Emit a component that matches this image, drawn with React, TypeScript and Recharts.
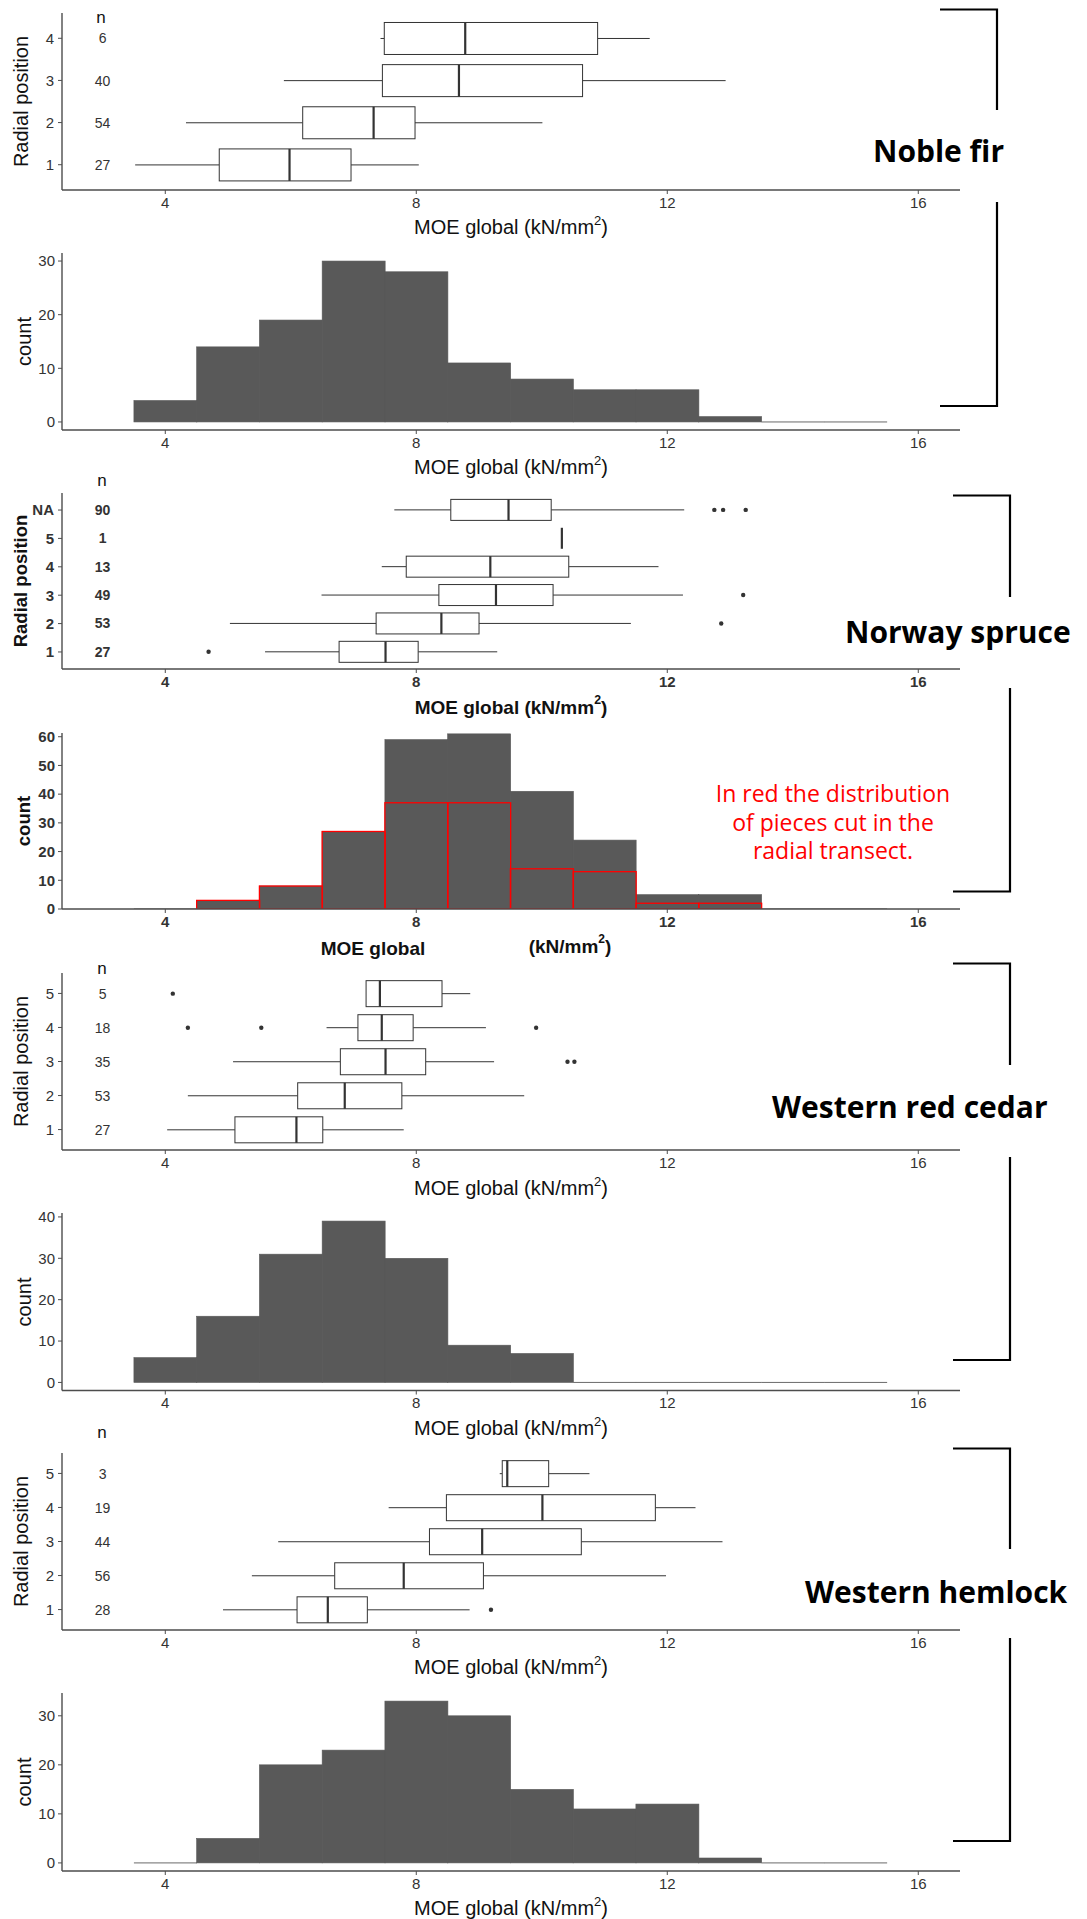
import React from 'react';
import { ComposedChart, Bar, XAxis, YAxis } from 'recharts';

// ---------- shared axis values ----------
const MOE_TICKS = [4, 8, 12, 16];
const MOE_DOMAIN: [number, number] = [2.354, 16.665];
const BIN_MIDS = [4, 5, 6, 7, 8, 9, 10, 11, 12, 13, 14, 15];
const COUNT_LABEL_AT = 3;

// ---------- Noble fir ----------
const NOBLE_POS = ['4', '3', '2', '1'];
const NOBLE_N = [6, 40, 54, 27];
const NOBLE_LO = [7.43, 5.89, 4.33, 3.52];
const NOBLE_Q1 = [7.49, 7.46, 6.19, 4.86];
const NOBLE_MED = [8.78, 8.68, 7.32, 5.98];
const NOBLE_Q3 = [10.89, 10.65, 7.98, 6.96];
const NOBLE_HI = [11.72, 12.93, 10.01, 8.04];
const NOBLE_OUT: number[][] = [[], [], [], []];
const NOBLE_HIST = [4, 14, 19, 30, 28, 11, 8, 6, 6, 1, 0, 0];
const NOBLE_YTICKS = [0, 10, 20, 30];

// ---------- Norway spruce ----------
const SPRUCE_POS = ['NA', '5', '4', '3', '2', '1'];
const SPRUCE_N = [90, 1, 13, 49, 53, 27];
const SPRUCE_LO = [7.65, 10.32, 7.45, 6.49, 5.03, 5.59];
const SPRUCE_Q1 = [8.55, 10.32, 7.84, 8.36, 7.36, 6.77];
const SPRUCE_MED = [9.47, 10.32, 9.18, 9.27, 8.4, 7.51];
const SPRUCE_Q3 = [10.15, 10.32, 10.43, 10.18, 9.0, 8.03];
const SPRUCE_HI = [12.27, 10.32, 11.86, 12.25, 11.42, 9.29];
const SPRUCE_OUT: number[][] = [[12.75, 12.89, 13.25], [], [], [13.21], [12.86], [4.69]];
const SPRUCE_HIST = [0, 3, 8, 27, 59, 61, 41, 24, 5, 5, 0, 0];
const SPRUCE_RADIAL_HIST = [0, 3, 8, 27, 37, 37, 14, 13, 2, 2, 0, 0];
const SPRUCE_YTICKS = [0, 10, 20, 30, 40, 50, 60];

// ---------- Western red cedar ----------
const CEDAR_POS = ['5', '4', '3', '2', '1'];
const CEDAR_N = [5, 18, 35, 53, 27];
const CEDAR_LO = [7.2, 6.57, 5.08, 4.36, 4.03];
const CEDAR_Q1 = [7.2, 7.07, 6.79, 6.11, 5.11];
const CEDAR_MED = [7.42, 7.45, 7.51, 6.86, 6.09];
const CEDAR_Q3 = [8.41, 7.95, 8.15, 7.77, 6.51];
const CEDAR_HI = [8.86, 9.11, 9.24, 9.72, 7.8];
const CEDAR_OUT: number[][] = [[4.12], [4.36, 5.53, 9.91], [10.41, 10.52], [], []];
const CEDAR_HIST = [6, 16, 31, 39, 30, 9, 7, 0, 0, 0, 0, 0];
const CEDAR_YTICKS = [0, 10, 20, 30, 40];

// ---------- Western hemlock ----------
const HEMLOCK_POS = ['5', '4', '3', '2', '1'];
const HEMLOCK_N = [3, 19, 44, 56, 28];
const HEMLOCK_LO = [9.33, 7.56, 5.8, 5.38, 4.92];
const HEMLOCK_Q1 = [9.37, 8.48, 8.21, 6.7, 6.1];
const HEMLOCK_MED = [9.45, 10.01, 9.05, 7.8, 6.59];
const HEMLOCK_Q3 = [10.11, 11.81, 10.63, 9.07, 7.22];
const HEMLOCK_HI = [10.76, 12.45, 12.88, 11.98, 8.85];
const HEMLOCK_OUT: number[][] = [[], [], [], [], [9.19]];
const HEMLOCK_HIST = [0, 5, 20, 23, 33, 30, 15, 11, 12, 1, 0, 0];
const HEMLOCK_YTICKS = [0, 10, 20, 30];

// ---------- styling / layout ----------
const FONT = "'Liberation Sans', Arial, sans-serif";
const TITLE_FONT = "'Open Sans', sans-serif";
const W = 1087;
const PLOT_LEFT = 62;
const PLOT_RIGHT = 960;
const MT = 10;
const XH = 40;
const YW = 60;
const INK = '#333333';
const AXIS = { stroke: '#4d4d4d', strokeWidth: 1.4 };
const TICKLINE = { stroke: '#4d4d4d', strokeWidth: 1 };
const SPAN = [MOE_TICKS[0], MOE_TICKS[MOE_TICKS.length - 1]];

type BoxRow = {
  pos: string; n: number; lo: number; q1: number; med: number; q3: number; hi: number; out: number[]; span: number[];
};

function boxRows(pos: string[], n: number[], lo: number[], q1: number[], med: number[], q3: number[], hi: number[], out: number[][]): BoxRow[] {
  return pos.map((p, i) => ({ pos: p, n: n[i], lo: lo[i], q1: q1[i], med: med[i], q3: q3[i], hi: hi[i], out: out[i], span: SPAN }));
}

const makeBoxShape = (bold: boolean) => (props: any) => {
  const { x, y, width, height } = props;
  const d: BoxRow = props.payload && props.payload.pos !== undefined ? props.payload : props;
  const sx = (v: number) => x + ((v - SPAN[0]) / (SPAN[1] - SPAN[0])) * width;
  const cy = y + height / 2;
  const q1 = sx(d.q1);
  const q3 = sx(d.q3);
  return (
    <g>
      <line x1={sx(d.lo)} x2={q1} y1={cy} y2={cy} stroke={INK} strokeWidth={1} />
      <line x1={q3} x2={sx(d.hi)} y1={cy} y2={cy} stroke={INK} strokeWidth={1} />
      <rect x={q1} y={y} width={Math.max(q3 - q1, 0)} height={height} fill="#ffffff" stroke={INK} strokeWidth={1} />
      <line x1={sx(d.med)} x2={sx(d.med)} y1={y} y2={y + height} stroke={INK} strokeWidth={2.2} />
      {d.out.map((o, k) => (
        <circle key={k} cx={sx(o)} cy={cy} r={2.2} fill={INK} />
      ))}
      <text x={sx(COUNT_LABEL_AT)} y={cy} textAnchor="middle" dominantBaseline="central" fontFamily={FONT} fontSize={14} fontWeight={bold ? 'bold' : 'normal'} fill={INK}>
        {d.n}
      </text>
    </g>
  );
};

function tickStyle(bold: boolean) {
  return { fontSize: 15, fill: INK, fontFamily: FONT, fontWeight: bold ? 'bold' : 'normal' };
}

function BoxPanel({ plotTop, plotBottom, rows, bold }: { plotTop: number; plotBottom: number; rows: BoxRow[]; bold: boolean }) {
  const plotH = plotBottom - plotTop;
  const n = rows.length;
  const pad = (0.1 * plotH) / (n - 1 + 1.2);
  return (
    <div style={{ position: 'absolute', left: 0, top: plotTop - MT }}>
      <ComposedChart
        width={W}
        height={MT + plotH + XH}
        data={rows}
        layout="vertical"
        margin={{ top: MT, right: W - PLOT_RIGHT, bottom: 0, left: PLOT_LEFT - YW }}
        barCategoryGap="12.5%"
      >
        <XAxis type="number" domain={MOE_DOMAIN} ticks={MOE_TICKS} allowDataOverflow height={XH} tick={tickStyle(bold)} tickSize={4} tickMargin={3} axisLine={AXIS} tickLine={TICKLINE} />
        <YAxis type="category" dataKey="pos" width={YW} padding={{ top: pad, bottom: pad }} interval={0} tick={tickStyle(bold)} tickSize={4} tickMargin={4} axisLine={AXIS} tickLine={TICKLINE} />
        <Bar dataKey="span" shape={makeBoxShape(bold)} isAnimationActive={false} />
      </ComposedChart>
    </div>
  );
}

const HistShape = (props: any) => {
  const { x, y, width, height } = props;
  if (!height || Math.abs(height) < 0.01) {
    return <line x1={x} x2={x + width} y1={y} y2={y} stroke="#6a6a6a" strokeWidth={1} />;
  }
  return <rect x={x} y={y} width={width} height={height} fill="#595959" stroke="#595959" strokeWidth={0.6} />;
};

const RedShape = (props: any) => {
  const { x, y, width, height } = props;
  if (!height || Math.abs(height) < 0.01) return <g />;
  return <rect x={x} y={y} width={width} height={height} fill="none" stroke="#ff0000" strokeWidth={1.3} />;
};

function HistPanel({ plotTop, plotBottom, counts, yDomain, yTicks, bold, red }: { plotTop: number; plotBottom: number; counts: number[]; yDomain: [number, number]; yTicks: number[]; bold: boolean; red?: number[] }) {
  const plotH = plotBottom - plotTop;
  const data = BIN_MIDS.map((m, i) => ({ mid: m, count: counts[i], red: red ? red[i] : 0 }));
  return (
    <div style={{ position: 'absolute', left: 0, top: plotTop - MT }}>
      <ComposedChart
        width={W}
        height={MT + plotH + XH}
        data={data}
        margin={{ top: MT, right: W - PLOT_RIGHT, bottom: 0, left: PLOT_LEFT - YW }}
        barCategoryGap={0}
        barGap={0}
      >
        <XAxis type="number" dataKey="mid" domain={MOE_DOMAIN} ticks={MOE_TICKS} allowDataOverflow height={XH} tick={tickStyle(bold)} tickSize={4} tickMargin={3} axisLine={AXIS} tickLine={TICKLINE} />
        {red ? <XAxis xAxisId="r" type="number" dataKey="mid" domain={MOE_DOMAIN} allowDataOverflow hide /> : null}
        <YAxis type="number" domain={yDomain} ticks={yTicks} allowDataOverflow width={YW} interval={0} tick={tickStyle(bold)} tickSize={4} tickMargin={3} axisLine={AXIS} tickLine={TICKLINE} />
        <Bar dataKey="count" shape={HistShape} isAnimationActive={false} />
        {red ? <Bar dataKey="red" xAxisId="r" shape={RedShape} isAnimationActive={false} /> : null}
      </ComposedChart>
    </div>
  );
}

function MoeTitle({ x, y, bold, size }: { x: number; y: number; bold?: boolean; size: number }) {
  return (
    <text x={x} y={y} textAnchor="middle" dominantBaseline="central" fontFamily={FONT} fontSize={size} fontWeight={bold ? 'bold' : 'normal'} fill="#111">
      <tspan>MOE global (kN/mm</tspan>
      <tspan dy={-7} fontSize={size * 0.65}>2</tspan>
      <tspan dy={7}>)</tspan>
    </text>
  );
}

function YTitle({ x, y, label, bold, size }: { x: number; y: number; label: string; bold?: boolean; size: number }) {
  return (
    <text x={x} y={y} transform={`rotate(-90 ${x} ${y})`} textAnchor="middle" dominantBaseline="central" fontFamily={FONT} fontSize={size} fontWeight={bold ? 'bold' : 'normal'} fill="#111">
      {label}
    </text>
  );
}

function Bracket({ x0, x1, top, gapTop, gapBottom, bottom }: { x0: number; x1: number; top: number; gapTop: number; gapBottom: number; bottom: number }) {
  const s = { stroke: '#000', strokeWidth: 2.2, fill: 'none' };
  return (
    <g>
      <polyline points={`${x0},${top} ${x1},${top} ${x1},${gapTop}`} {...s} />
      <polyline points={`${x1},${gapBottom} ${x1},${bottom} ${x0},${bottom}`} {...s} />
    </g>
  );
}

function Species({ x, y, label }: { x: number; y: number; label: string }) {
  return (
    <text x={x} y={y} fontFamily={TITLE_FONT} fontWeight="bold" fontSize={30} fill="#000">
      {label}
    </text>
  );
}

function NLabel({ x, y }: { x: number; y: number }) {
  return (
    <text x={x} y={y} textAnchor="middle" dominantBaseline="central" fontFamily={FONT} fontSize={17} fill="#111">
      n
    </text>
  );
}

export default function App() {
  const noble = boxRows(NOBLE_POS, NOBLE_N, NOBLE_LO, NOBLE_Q1, NOBLE_MED, NOBLE_Q3, NOBLE_HI, NOBLE_OUT);
  const spruce = boxRows(SPRUCE_POS, SPRUCE_N, SPRUCE_LO, SPRUCE_Q1, SPRUCE_MED, SPRUCE_Q3, SPRUCE_HI, SPRUCE_OUT);
  const cedar = boxRows(CEDAR_POS, CEDAR_N, CEDAR_LO, CEDAR_Q1, CEDAR_MED, CEDAR_Q3, CEDAR_HI, CEDAR_OUT);
  const hemlock = boxRows(HEMLOCK_POS, HEMLOCK_N, HEMLOCK_LO, HEMLOCK_Q1, HEMLOCK_MED, HEMLOCK_Q3, HEMLOCK_HI, HEMLOCK_OUT);
  const cx = (PLOT_LEFT + PLOT_RIGHT) / 2;

  return (
    <div style={{ position: 'absolute', left: 0, top: 0, width: W, height: 1919, background: '#ffffff', overflow: 'hidden' }}>
      <BoxPanel plotTop={13} plotBottom={190} rows={noble} bold={false} />
      <HistPanel plotTop={253} plotBottom={430} counts={NOBLE_HIST} yDomain={[-1.5, 31.5]} yTicks={NOBLE_YTICKS} bold={false} />
      <BoxPanel plotTop={493} plotBottom={669} rows={spruce} bold={true} />
      <HistPanel plotTop={733} plotBottom={909} counts={SPRUCE_HIST} red={SPRUCE_RADIAL_HIST} yDomain={[0, 61.3]} yTicks={SPRUCE_YTICKS} bold={true} />
      <BoxPanel plotTop={973} plotBottom={1150} rows={cedar} bold={false} />
      <HistPanel plotTop={1213} plotBottom={1390.5} counts={CEDAR_HIST} yDomain={[-1.95, 40.95]} yTicks={CEDAR_YTICKS} bold={false} />
      <BoxPanel plotTop={1453} plotBottom={1630} rows={hemlock} bold={false} />
      <HistPanel plotTop={1693} plotBottom={1871} counts={HEMLOCK_HIST} yDomain={[-1.65, 34.65]} yTicks={HEMLOCK_YTICKS} bold={false} />

      <svg width={W} height={1919} style={{ position: 'absolute', left: 0, top: 0, pointerEvents: 'none' }}>
        {/* axis titles */}
        <MoeTitle x={cx} y={227} size={20} />
        <MoeTitle x={cx} y={467} size={20} />
        <MoeTitle x={cx} y={707} size={19} bold />
        <text x={373} y={948} textAnchor="middle" dominantBaseline="central" fontFamily={FONT} fontSize={19} fontWeight="bold" fill="#111">MOE global</text>
        <text x={570} y={946} textAnchor="middle" dominantBaseline="central" fontFamily={FONT} fontSize={19} fontWeight="bold" fill="#111">
          <tspan>(kN/mm</tspan>
          <tspan dy={-7} fontSize={12}>2</tspan>
          <tspan dy={7}>)</tspan>
        </text>
        <MoeTitle x={cx} y={1188} size={20} />
        <MoeTitle x={cx} y={1428} size={20} />
        <MoeTitle x={cx} y={1667} size={20} />
        <MoeTitle x={cx} y={1908} size={20} />

        <YTitle x={21} y={101.5} label="Radial position" size={20} />
        <YTitle x={24} y={341.5} label="count" size={20} />
        <YTitle x={20} y={581} label="Radial position" size={18.5} bold />
        <YTitle x={23} y={821} label="count" size={18.5} bold />
        <YTitle x={21} y={1061.5} label="Radial position" size={20} />
        <YTitle x={24} y={1302} label="count" size={20} />
        <YTitle x={21} y={1541.5} label="Radial position" size={20} />
        <YTitle x={24} y={1782} label="count" size={20} />

        <NLabel x={101} y={17} />
        <NLabel x={102} y={480} />
        <NLabel x={102} y={968} />
        <NLabel x={102} y={1432} />

        {/* species labels and brackets */}
        <Species x={873} y={161.5} label="Noble fir" />
        <Species x={845} y={643} label="Norway spruce" />
        <Species x={772} y={1117.5} label="Western red cedar" />
        <Species x={805} y={1602.5} label="Western hemlock" />

        <Bracket x0={940} x1={997} top={9.5} gapTop={110} gapBottom={202} bottom={406} />
        <Bracket x0={953} x1={1010} top={495.5} gapTop={597} gapBottom={688} bottom={891.5} />
        <Bracket x0={953} x1={1010} top={963.5} gapTop={1065} gapBottom={1157} bottom={1360} />
        <Bracket x0={953} x1={1010} top={1448.5} gapTop={1549} gapBottom={1638} bottom={1841} />

        <text x={833} textAnchor="middle" fontFamily={TITLE_FONT} fontSize={23} fill="#ff0000">
          <tspan x={833} y={802}>In red the distribution</tspan>
          <tspan x={833} y={830.5}>of pieces cut in the</tspan>
          <tspan x={833} y={859}>radial transect.</tspan>
        </text>
      </svg>
    </div>
  );
}
